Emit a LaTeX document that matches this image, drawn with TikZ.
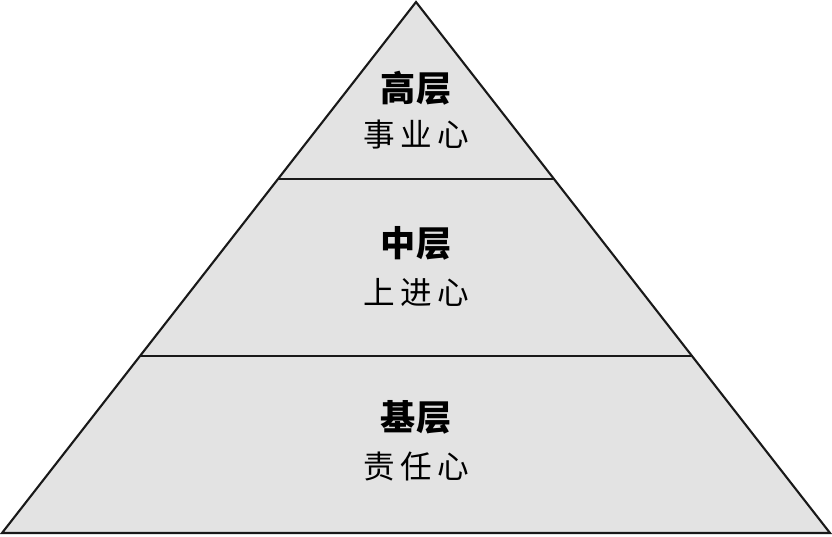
\documentclass[tikz,border=0pt]{standalone}
\usepackage{fontspec}
\newfontfamily\cjk{Noto Sans CJK SC}
\definecolor{pyrGray}{HTML}{E3E3E3}
\usetikzlibrary{calc}

\begin{document}
\begin{tikzpicture}[
    layer/.style={font=\cjk\fontsize{10pt}{12pt}\selectfont\bfseries},
    motive/.style={font=\cjk\fontsize{9pt}{11pt}\selectfont},
    edge/.style={black!90, line width=0.6pt}
  ]
  \useasboundingbox (0,0) rectangle (8.32,5.36);
  % ---- outline of the pyramid ----
  \coordinate (apex) at (4.16,5.34);
  \coordinate (bl) at (0.02,0.03);
  \coordinate (br) at (8.30,0.03);
  \fill[pyrGray] (apex) -- (bl) -- (br) -- cycle;
  % two cuts across, at 1/3 and 2/3 of the height
  \coordinate (l1) at ($(apex)!0.333!(bl)$);
  \coordinate (r1) at ($(apex)!0.333!(br)$);
  \coordinate (l2) at ($(apex)!0.667!(bl)$);
  \coordinate (r2) at ($(apex)!0.667!(br)$);
  \draw[edge] (l1) -- (r1);
  \draw[edge] (l2) -- (r2);
  \draw[edge, line join=miter] (apex) -- (bl) -- (br) -- cycle;
  % ---- texts ----
  \node[layer]  (top)    at (4.16,4.48) {高层};
  \node[motive] (topm)   at (4.16,4.01) {事\,业\,心};
  \node[layer]  (mid)    at (4.16,2.93) {中层};
  \node[motive] (midm)   at (4.16,2.44) {上\,进\,心};
  \node[layer]  (base)   at (4.16,1.19) {基层};
  \node[motive] (basem)  at (4.16,0.70) {责\,任\,心};
\end{tikzpicture}
\end{document}
